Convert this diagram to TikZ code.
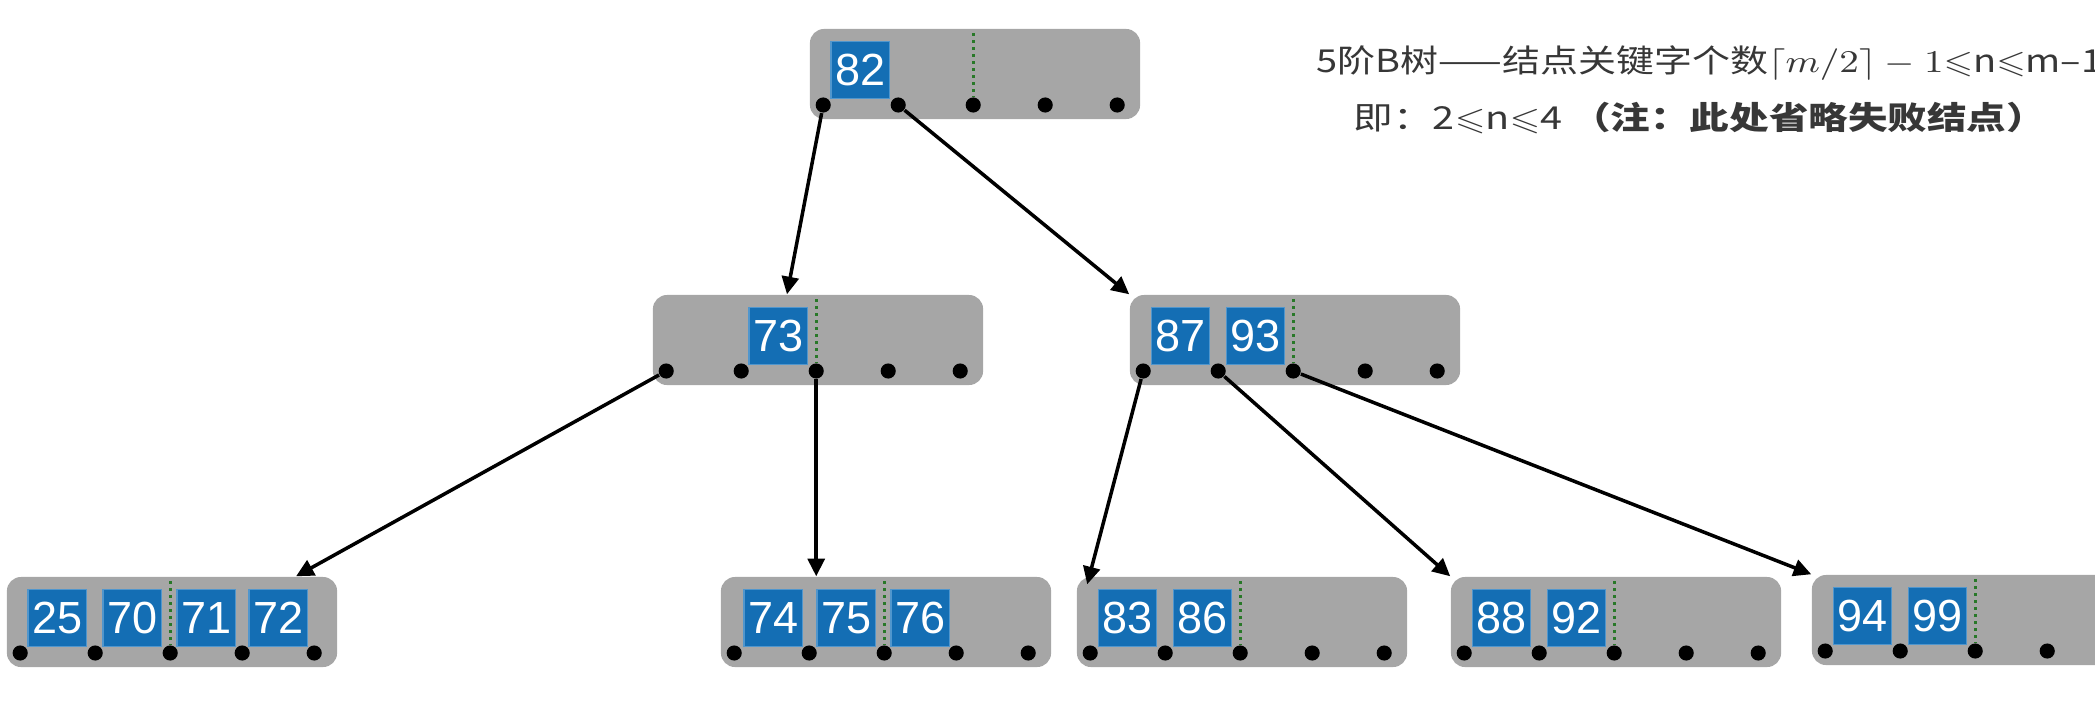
\documentclass[tikz,border=0pt]{standalone}
\usepackage{fontspec}
\usepackage{amssymb}
\usepackage{graphicx}
\usetikzlibrary{arrows.meta}

\newfontfamily\cjk{Noto Sans CJK SC}
\newfontfamily\keyfont{Liberation Sans}

\definecolor{nodegray}{RGB}{166,166,166}
\definecolor{keyblue}{RGB}{20,110,180}
\definecolor{keyedge}{RGB}{80,150,205}
\definecolor{splitgreen}{RGB}{40,120,40}
\definecolor{titlegray}{RGB}{55,55,55}

\tikzset{
  bnode/.style={fill=nodegray, rounded corners=4pt, minimum width=3.3cm,
    minimum height=0.9cm, inner sep=0pt},
  keybox/.style={fill=keyblue, draw=keyedge, line width=0.4pt,
    minimum width=0.58cm, minimum height=0.57cm, inner sep=0pt,
    text=white, font=\keyfont\fontsize{12.8}{14}\selectfont},
  ptr/.style={circle, fill=black, minimum size=4.3pt, inner sep=0pt},
  split/.style={draw=splitgreen, line width=0.9pt, dash pattern=on 0.9pt off 1.1pt},
  link/.style={-{Triangle[length=5pt,width=4.8pt]}, line width=1pt},
  title/.style={anchor=west, inner sep=0pt, text=titlegray,
    font=\cjk\fontsize{9}{11}\selectfont},
}

\begin{document}
\begin{tikzpicture}[x=0.01cm, y=-0.01cm]
    \useasboundingbox (0,0) rectangle (2095,718);

    % B-tree nodes with their pointer dots and split line
    \foreach \n/\cx/\cy in {root/975/74, midL/818/340, midR/1295/340,
        botA/172/622, botB/886/622, botC/1242/622, botD/1616/622, botE/1977/620} {
      \node[bnode] (\n) at (\cx,\cy) {};
      \foreach \i/\dx in {1/14, 2/89, 3/164, 4/236, 5/308}
        \node[ptr] (\n-p\i) at ([shift={(\dx,31)}]\n.west) {};
      \draw[split] ([shift={(164,-41)}]\n.west) -- (\n-p3);
    }

    % Keys
    \foreach \n/\k/\dx in {root/82/51, midL/73/126, midR/87/51, midR/93/126,
        botA/25/51, botA/70/126, botA/71/200, botA/72/272,
        botB/74/53, botB/75/126, botB/76/200,
        botC/83/51, botC/86/126, botD/88/51, botD/92/126,
        botE/94/51, botE/99/126}
      \node[keybox] (k\k) at ([shift={(\dx,-4)}]\n.west) {\k};

    % Child pointers
    \draw[link] (root-p1) -- ([xshift=-0.31cm]midL.north);
    \draw[link] (root-p2) -- (midR.north west);
    \draw[link] (midL-p1) -- ([xshift=1.24cm]botA.north);
    \draw[link] (midL-p3) -- (midL-p3 |- botB.north);
    \draw[link] (midR-p1) -- ([shift={(11,8)}]botC.north west);
    \draw[link] (midR-p2) -- (botD.north west);
    \draw[link] (midR-p3) -- (botE.north west);

    % Caption
    \node[title] (title1) at (1316,63)
      {\scalebox{1.2}[1]{5阶B树——结点关键字个数$\lceil m/2\rceil - 1$$\leqslant$n$\leqslant$m–1}};
    \node[title] (title2) at (1353,118)
      {\scalebox{1.25}[1]{即：2$\leqslant$n$\leqslant$4 \textbf{（注：此处省略失败结点）}}};
\end{tikzpicture}
\end{document}
